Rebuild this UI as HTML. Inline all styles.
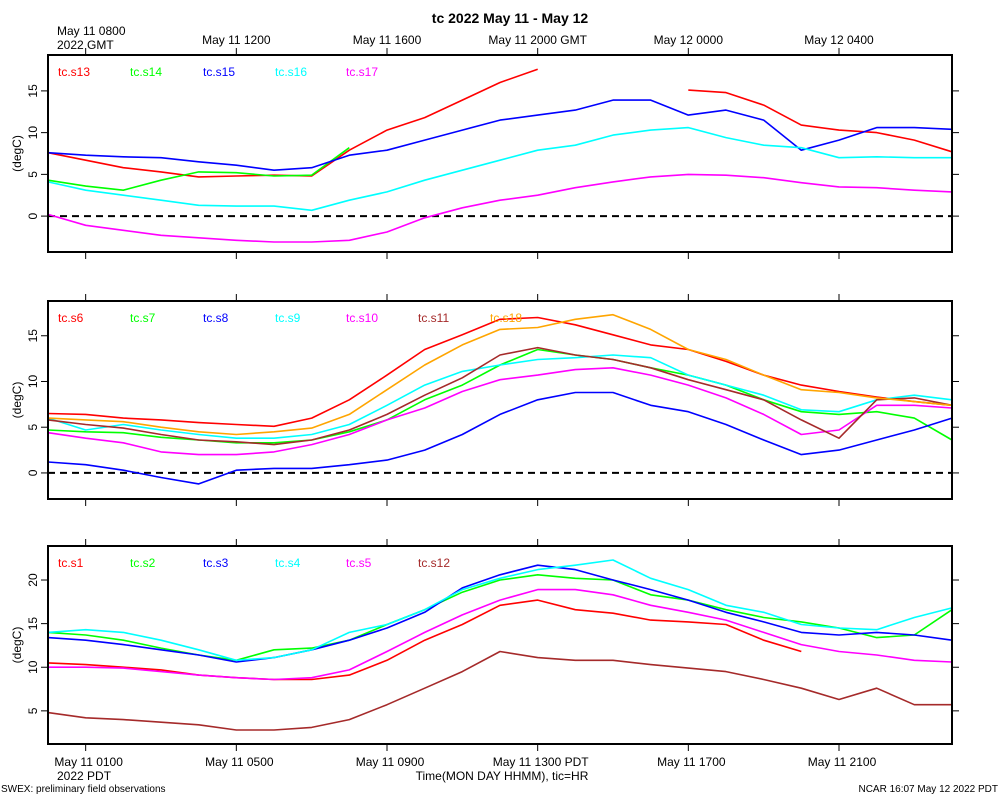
<!DOCTYPE html>
<html><head><meta charset="utf-8"><style>
body{margin:0;background:#fff;}
svg{display:block;font-family:"Liberation Sans",sans-serif;}
</style></head><body>
<svg id="chart" width="1000" height="800" viewBox="0 0 1000 800">
<text x="510" y="23" text-anchor="middle" font-size="14" font-weight="bold">tc 2022 May 11 - May 12</text>
<text x="57" y="35" font-size="12">May 11 0800</text>
<text x="57" y="49" font-size="12">2022 GMT</text>
<text x="57" y="780" font-size="12">2022 PDT</text>
<text x="502" y="780" text-anchor="middle" font-size="12">Time(MON DAY HHMM), tic=HR</text>
<text x="1" y="792" font-size="10">SWEX: preliminary field observations</text>
<text x="998" y="792" text-anchor="end" font-size="10">NCAR 16:07 May 12 2022 PDT</text>
</svg>
<script>
const hours=[0,1,2,3,4,5,6,7,8,9,10,11,12,13,14,15,16,17,18,19,20,21,22,23,24];
const bottomTickHours=[1,5,9,13,17,21];
const bottomTickLabels=["May 11 0100","May 11 0500","May 11 0900","May 11 1300 PDT","May 11 1700","May 11 2100"];
const topTickLabels=["","May 11 1200","May 11 1600","May 11 2000 GMT","May 12 0000","May 12 0400"];
// panel 1
const p1Names=["tc.s13","tc.s14","tc.s15","tc.s16","tc.s17"];
const s13=[7.6,6.7,5.8,5.3,4.7,4.8,4.9,4.8,7.9,10.3,11.8,13.9,16,17.6,null,null,null,15.1,14.8,13.3,10.9,10.3,10,9.1,7.7];
const s14=[4.3,3.6,3.1,4.3,5.3,5.2,4.8,4.9,8.2,null,null,null,null,null,null,null,null,null,null,null,null,null,null,null,null];
const s15=[7.6,7.3,7.1,7.0,6.5,6.1,5.5,5.8,7.3,7.9,9.1,10.3,11.5,12.1,12.7,13.9,13.9,12.1,12.7,11.5,7.9,9.1,10.6,10.6,10.4];
const s16=[4.1,3.1,2.5,1.9,1.3,1.2,1.2,0.7,1.9,2.9,4.3,5.5,6.7,7.9,8.5,9.7,10.3,10.6,9.4,8.5,8.2,7.0,7.1,7.0,7.0];
const s17=[0.2,-1.1,-1.7,-2.3,-2.6,-2.9,-3.1,-3.1,-2.9,-1.9,-0.2,1.0,1.9,2.5,3.4,4.1,4.7,5.0,4.9,4.6,4.0,3.5,3.4,3.1,2.9];
// panel 2
const p2Names=["tc.s6","tc.s7","tc.s8","tc.s9","tc.s10","tc.s11","tc.s18"];
const s6=[6.5,6.4,6.0,5.8,5.5,5.3,5.1,6.0,8.0,10.7,13.5,15.1,16.8,17.0,16.2,15.1,14.0,13.5,12.2,10.7,9.6,8.9,8.3,7.8,7.4];
const s7=[4.7,4.5,4.4,3.9,3.6,3.3,3.3,3.6,4.5,5.8,8.0,9.6,11.8,13.5,12.9,12.4,11.5,10.7,9.6,8.0,6.7,6.4,6.7,6.0,3.6];
const s8=[1.2,0.9,0.3,-0.5,-1.2,0.3,0.5,0.5,0.9,1.4,2.5,4.2,6.4,8.0,8.8,8.8,7.4,6.7,5.3,3.6,2.0,2.5,3.6,4.7,6.0];
const s9=[6.0,4.7,5.3,4.7,4.2,3.8,3.8,4.2,5.3,7.4,9.6,11.1,11.8,12.4,12.6,12.9,12.6,10.7,9.6,8.5,6.9,6.7,8.0,8.5,8.0];
const s10=[4.4,3.8,3.3,2.3,2.0,2.0,2.3,3.1,4.2,5.8,7.1,8.9,10.2,10.7,11.3,11.5,10.7,9.6,8.2,6.4,4.2,4.7,7.4,7.4,7.1];
const s11=[5.8,5.3,4.9,4.2,3.6,3.4,3.1,3.6,4.7,6.4,8.5,10.4,12.9,13.7,12.9,12.4,11.5,10.2,9.1,8.0,5.8,3.8,8.0,8.2,7.4];
const s18=[6.0,5.8,5.6,5.0,4.5,4.2,4.5,4.9,6.4,9.1,11.8,14.0,15.7,15.9,16.8,17.3,15.7,13.5,12.4,10.7,9.1,8.8,8.2,7.8,7.4];
// panel 3
const p3Names=["tc.s1","tc.s2","tc.s3","tc.s4","tc.s5","tc.s12"];
const s1=[10.5,10.3,10.0,9.7,9.1,8.8,8.6,8.6,9.1,10.8,13.1,14.9,17.1,17.7,16.6,16.2,15.4,15.2,14.9,13.1,11.8,null,null,null,null];
const s2=[14.0,13.7,13.1,12.2,11.4,10.8,12.0,12.2,13.1,14.9,16.6,18.6,20.0,20.6,20.2,20.0,18.3,17.7,16.6,15.7,15.2,14.5,13.4,13.7,16.6];
const s3=[13.4,13.1,12.6,12.0,11.4,10.6,11.1,12.0,13.1,14.5,16.3,19.1,20.6,21.7,21.2,20.0,18.9,17.7,16.3,15.2,14.0,13.7,14.0,13.7,13.1];
const s4=[14.0,14.3,14.0,13.1,12.0,10.8,11.1,12.0,14.0,14.9,16.6,18.9,20.2,21.2,21.7,22.3,20.2,18.9,17.1,16.3,14.9,14.5,14.3,15.7,16.8];
const s5=[10.0,10.0,9.9,9.5,9.1,8.8,8.6,8.8,9.7,11.8,14.0,16.0,17.7,18.9,18.9,18.3,17.1,16.3,15.4,14.0,12.6,11.8,11.4,10.8,10.6];
const s12=[4.8,4.2,4.0,3.7,3.4,2.8,2.8,3.1,4.0,5.7,7.6,9.5,11.8,11.1,10.8,10.8,10.3,9.9,9.5,8.6,7.6,6.3,7.6,5.7,5.7];

const NS="http://www.w3.org/2000/svg";
const svg=document.getElementById('chart');
const X0=48,X1=952;
function xs(h){return X0+(X1-X0)*h/24;}
function mk(tag,attrs,parent){const e=document.createElementNS(NS,tag);for(const k in attrs)e.setAttribute(k,attrs[k]);(parent||svg).appendChild(e);return e;}
const panels=[
 {name:"panel-top",top:55,bot:252,vmin:-4.3,vmax:19.3,ticks:[0,5,10,15],zero:true,names:p1Names,series:[s13,s14,s15,s16,s17],colors:["#ff0000","#00ff00","#0000ff","#00ffff","#ff00ff"],topLabels:true},
 {name:"panel-middle",top:301,bot:499,vmin:-2.85,vmax:18.8,ticks:[0,5,10,15],zero:true,names:p2Names,series:[s6,s7,s8,s9,s10,s11,s18],colors:["#ff0000","#00ff00","#0000ff","#00ffff","#ff00ff","#a52a2a","#ffa500"]},
 {name:"panel-bottom",top:546,bot:744,vmin:1.2,vmax:23.9,ticks:[5,10,15,20],zero:false,names:p3Names,series:[s1,s2,s3,s4,s5,s12],colors:["#ff0000","#00ff00","#0000ff","#00ffff","#ff00ff","#a52a2a"],bottomLabels:true}
];
const legendX=[58,130,203,275,346,418,490];
panels.forEach(p=>{
 const g=mk('g',{});
 
 
 const ys=v=>p.bot-(v-p.vmin)/(p.vmax-p.vmin)*(p.bot-p.top);
 if(p.zero){
  const z=mk('line',{x1:X0,x2:X1,y1:ys(0),y2:ys(0),stroke:'#000','stroke-width':2,'stroke-dasharray':'7,5'},g);
  
  
 }
 p.series.forEach((s,i)=>{
  let d='',pen=false;
  s.forEach((v,j)=>{
   if(v===null){pen=false;return;}
   d+=(pen?'L':'M')+xs(hours[j]).toFixed(1)+','+ys(v).toFixed(1);pen=true;
  });
  const l=mk('path',{d:d,fill:'none',stroke:p.colors[i],'stroke-width':1.6,'stroke-linejoin':'round'},g);
  
  
  const t=mk('text',{x:legendX[i],y:p.top+21,fill:p.colors[i],'font-size':12},g);
  t.textContent=p.names[i];
  
  
 });
 const fr=mk('rect',{x:X0,y:p.top,width:X1-X0,height:p.bot-p.top,fill:'none',stroke:'#000','stroke-width':2},g);
 
 
 p.ticks.forEach(v=>{
  const y=ys(v);
  mk('line',{x1:X0-7,x2:X0,y1:y,y2:y,stroke:'#000','stroke-width':1},g);
  mk('line',{x1:X1,x2:X1+7,y1:y,y2:y,stroke:'#000','stroke-width':1},g);
  const t=mk('text',{x:0,y:0,'font-size':12,'text-anchor':'middle',transform:`translate(${X0-11},${y}) rotate(-90)`},g);
  t.textContent=v;
  
  
 });
 const yt=mk('text',{x:0,y:0,'font-size':12,'text-anchor':'middle',transform:`translate(21,${(p.top+p.bot)/2}) rotate(-90)`},g);
 yt.textContent='(degC)';
 
 
 bottomTickHours.forEach((h,i)=>{
  const x=xs(h);
  mk('line',{x1:x,x2:x,y1:p.top-7,y2:p.top,stroke:'#000','stroke-width':1},g);
  mk('line',{x1:x,x2:x,y1:p.bot,y2:p.bot+7,stroke:'#000','stroke-width':1},g);
  if(p.topLabels&&topTickLabels[i]){
   const t=mk('text',{x:x,y:44,'font-size':12,'text-anchor':'middle'},g);
   t.textContent=topTickLabels[i];
   
   
  }
  if(p.bottomLabels){
   const t=mk('text',{x:x+3,y:766,'font-size':12,'text-anchor':'middle'},g);
   t.textContent=bottomTickLabels[i];
   
   
  }
 });
});
</script>
</body></html>
